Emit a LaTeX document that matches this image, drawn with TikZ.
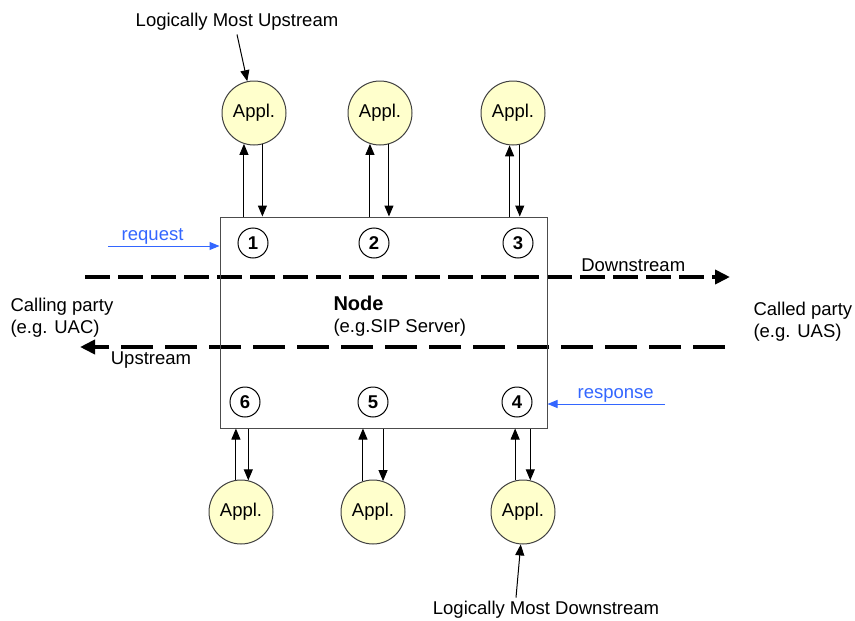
\documentclass[tikz,border=0pt]{standalone}
\usepackage{fontspec}
\setmainfont{Liberation Sans}
\usepackage{tikz}
\usetikzlibrary{positioning,arrows.meta,calc}
\definecolor{applyel}{RGB}{255,255,204}
\definecolor{msgblue}{RGB}{51,102,255}
\newcommand{\figfont}{\fontsize{18.5}{22}\selectfont}
\tikzset{
	every node/.style = { font=\figfont },
	appl/.style = { circle, draw=black!75, fill=applyel, minimum size=64pt, inner sep=0pt },
	pnt/.style = { circle, draw, minimum size=30pt, inner sep=0pt, font=\figfont\bfseries },
	srv/.style = { rectangle, draw=black!70, minimum width=327pt, minimum height=211pt },
	flow/.style = { line width=4pt, -{Triangle[length=15pt,width=14pt]} },
	msg/.style = { msgblue, -{Triangle[length=10pt,width=8pt]} },
	call/.style = { -{Triangle[length=11pt,width=9pt]} },
	lbl/.style = { align=left, anchor=west, inner sep=0pt },
	mtxt/.style = { text=msgblue, inner sep=1pt },
}

\begin{document}
\begin{tikzpicture}[x=1pt, y=-1pt, line width=1pt]
\useasboundingbox (0,0) rectangle (855,621);

% flows through the node
\coordinate (dsfrom) at (85,277);
\coordinate (dsto)   at (730,277);
\coordinate (usfrom) at (725,347);
\coordinate (usto)   at (80,347);
\draw[flow, dash pattern=on 25pt off 8pt]  (dsfrom) -- node (dslbl) [pos=.85, above=2pt, inner sep=1pt] {Downstream} (dsto);
\draw[flow, dash pattern=on 32pt off 12pt] (usfrom) -- node (uslbl) [pos=.89, below=2pt, inner sep=1pt] {Upstream} (usto);

\node (srv)     [srv] at (383.5,322.5) {};
\node (srvname) [lbl] at (333,316) {{\fontsize{20}{23}\selectfont\bfseries Node}\\(e.g.SIP Server)};

\node (p1) [pnt] at (253,243) {1};
\node (p2) [pnt] at (374,243) {2};
\node (p3) [pnt] at (518,243) {3};
\node (p4) [pnt] at (517,402) {4};
\node (p5) [pnt] at (373,402) {5};
\node (p6) [pnt] at (245,402) {6};

\node (a1) [appl] at (254,113) {Appl.};
\node (a2) [appl] at (380,113) {Appl.};
\node (a3) [appl] at (513,113) {Appl.};
\node (a4) [appl] at (523,512) {Appl.};
\node (a5) [appl] at (373,512) {Appl.};
\node (a6) [appl] at (241,512) {Appl.};

\draw[call] (a1.252 |- srv.north) -- (a1.252);
\draw[call] (a1.285) -- (a1.285 |- srv.north);
\draw[call] (a2.252 |- srv.north) -- (a2.252);
\draw[call] (a2.286) -- (a2.286 |- srv.north);
\draw[call] (a3.264 |- srv.north) -- (a3.264);
\draw[call] (a3.282) -- (a3.282 |- srv.north);

\draw[call] (a6.99)  -- (a6.99 |- srv.south);
\draw[call] (a6.77 |- srv.south) -- (a6.77);
\draw[call] (a5.108) -- (a5.108 |- srv.south);
\draw[call] (a5.72 |- srv.south) -- (a5.72);
\draw[call] (a4.104) -- (a4.104 |- srv.south);
\draw[call] (a4.77 |- srv.south) -- (a4.77);

\node (uplbl) at (237,22)  {Logically Most Upstream};
\node (dnlbl) at (546,610) {Logically Most Downstream};
\draw[call] (uplbl.south) -- (a1.102);
\draw[call] ($(dnlbl.north)+(-30,0)$) -- (a4.266);

\coordinate (reqin) at (108,246);
\coordinate (rspin) at (665,404);
\draw[msg] (reqin) -- node (reqlbl) [mtxt, above, pos=.4]  {request}  (reqin -| srv.west);
\draw[msg] (rspin) -- node (rsplbl) [mtxt, above, pos=.42] {response} (rspin -| srv.east);

\node (caller) [lbl] at (10,318)  {Calling party\\(e.g. UAC)};
\node (callee) [lbl] at (753,322) {Called party\\(e.g. UAS)};

\end{tikzpicture}
\end{document}
